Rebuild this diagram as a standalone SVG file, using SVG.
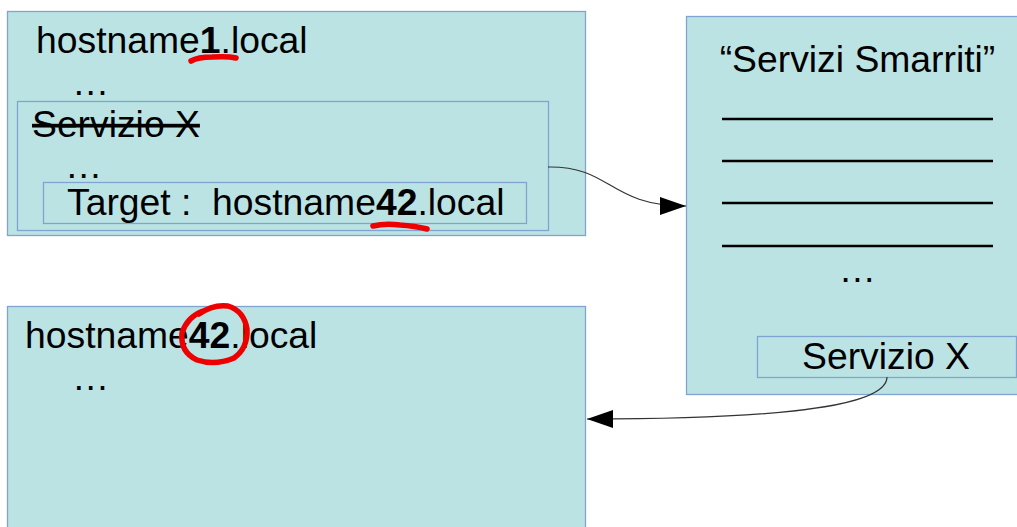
<svg xmlns="http://www.w3.org/2000/svg" width="1017" height="527" viewBox="0 0 1017 527">
<style>
.box{fill:#bce3e4;stroke:#7fa4cf;stroke-width:1.3}
.t{font-family:"Liberation Sans",Arial,sans-serif;font-size:37.3px;fill:#000}
.b{font-weight:bold}
.red{fill:none;stroke:#ee0000;stroke-width:5.5;stroke-linecap:round;stroke-linejoin:round}
.conn{fill:none;stroke:#333;stroke-width:1.2}
.rule{stroke:#000;stroke-width:2.6}
</style>
<defs>
<marker id="arr" markerUnits="userSpaceOnUse" markerWidth="27" markerHeight="20" refX="26" refY="9" orient="auto">
<path d="M0,0 L26,9 L0,18 z" fill="#000"/>
</marker>
</defs>
<rect width="1017" height="527" fill="#fff"/>

<g id="host1">
<rect class="box" x="7.5" y="11.5" width="578" height="224"/>
<text class="t" x="36" y="53">hostname<tspan class="b">1</tspan>.local</text>
<text class="t" x="72" y="95">…</text>
<path class="red" d="M191,61 Q198,57 212,57 Q228,56 236,58"/>
</g>

<g id="servizio-x-old">
<rect class="box" x="17.5" y="101.5" width="531" height="129"/>
<text class="t" x="32" y="137" text-decoration="line-through">Servizio X</text>
<text class="t" x="65" y="178">…</text>
</g>

<g id="target">
<rect class="box" x="43.5" y="182.5" width="483" height="41"/>
<text class="t" x="67" y="215" xml:space="preserve">Target :  hostname<tspan class="b">42</tspan>.local</text>
<path class="red" d="M373,226 Q385,223 400,225 Q415,226 427,229"/>
</g>

<g id="servizi-smarriti">
<rect class="box" x="686.5" y="16.5" width="345" height="378"/>
<text class="t" x="857.5" y="72" text-anchor="middle">“Servizi Smarriti”</text>
<line class="rule" x1="722" y1="119" x2="993" y2="119"/>
<line class="rule" x1="722" y1="161" x2="993" y2="161"/>
<line class="rule" x1="722" y1="203" x2="993" y2="203"/>
<line class="rule" x1="722" y1="246" x2="993" y2="246"/>
<text class="t" x="857.5" y="282" text-anchor="middle">…</text>
</g>

<g id="servizio-x-new">
<rect class="box" x="757.5" y="336.5" width="259" height="41"/>
<text class="t" x="886" y="369" text-anchor="middle">Servizio X</text>
</g>

<g id="host42">
<rect class="box" x="7.5" y="306.5" width="578" height="240"/>
<text class="t" x="25" y="348">hostname<tspan class="b">42</tspan>.local</text>
<text class="t" x="72" y="390">…</text>
<path class="red" d="M203,311 Q187,317 182,333 Q180,352 197,360 Q215,366 234,358 Q248,348 247,329 Q244,311 228,306 Q213,304 199,314"/>
</g>

<g id="connectors">
<path class="conn" d="M548,167 C612,166 608,206 686,206" marker-end="url(#arr)"/>
<path class="conn" d="M887,377 C887,408 770,419 587,419" marker-end="url(#arr)"/>
</g>
</svg>
